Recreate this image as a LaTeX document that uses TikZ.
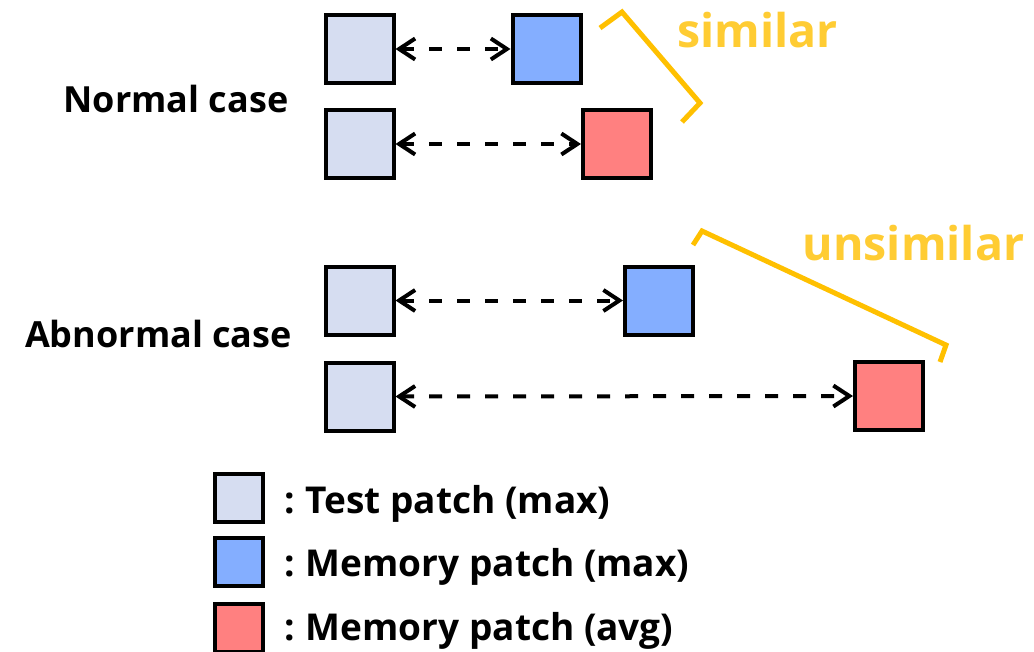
\documentclass[tikz,border=0pt]{standalone}
\usepackage{fontspec}
\setmainfont{Open Sans}
\usetikzlibrary{arrows.meta}
\definecolor{testfill}{HTML}{D6DDF1}
\definecolor{maxfill}{HTML}{84AEFF}
\definecolor{avgfill}{HTML}{FF8080}
\definecolor{bracecol}{HTML}{FFC000}
\definecolor{simtext}{HTML}{FFCC33}
\begin{document}
\begin{tikzpicture}[x=1pt,y=-1pt,
  patch/.style={draw=black, line width=4pt, minimum size=68pt, inner sep=0pt},
  keypatch/.style={patch, minimum size=48pt},
  barb/.tip={Straight Barb[length=16pt,width=21pt,line width=4pt]},
  match/.style={line width=4pt, dash pattern=on 13pt off 15pt, {barb}-{barb}},
  brace/.style={draw=bracecol, line width=5pt},
  caselabel/.style={font=\bfseries\fontsize{36}{40}\selectfont, anchor=base, inner sep=0pt},
  simlabel/.style={font=\bfseries\fontsize{46.5}{50}\selectfont, text=simtext, anchor=base, inner sep=0pt},
  keylabel/.style={font=\bfseries\fontsize{37}{40}\selectfont, anchor=base west, inner sep=0pt},
]
\useasboundingbox (0,0) rectangle (1034,651);

% normal case
\node[patch, fill=testfill] (n1t) at (359.5,49) {};
\node[patch, fill=maxfill]  (n1m) at (546.5,49) {};
\node[patch, fill=testfill] (n2t) at (359.5,144) {};
\node[patch, fill=avgfill]  (n2m) at (617,144) {};
\draw[match] (n1t.east) -- (n1m.west);
\draw[match] (n2t.east) -- (n2m.west);
\node[caselabel] (normal) at (176,112) {Normal case};

% abnormal case
\node[patch, fill=testfill] (a1t) at (359.5,300.5) {};
\node[patch, fill=maxfill]  (a1m) at (659,300.5) {};
\node[patch, fill=testfill] (a2t) at (359.5,396.5) {};
\node[patch, fill=avgfill]  (a2m) at (889,396) {};
\draw[match] (a1t.east) -- (a1m.west);
\draw[match] (a2t.east) -- (a2m.west);
\node[caselabel] (abnormal) at (158.5,347) {Abnormal case};

% similarity brackets
\draw[brace] (600,28) -- (622,12) -- (700,103) -- (682,122);
\node[simlabel] (sim) at (757.5,47) {similar};
\draw[brace] (693,245) -- (702,231) -- (946,345) -- (940,362);
\node[simlabel] (unsim) at (913.5,260) {unsimilar};

% legend
\node[keypatch, fill=testfill] (k1) at (238.5,497.5) {};
\node[keypatch, fill=maxfill]  (k2) at (238.5,562) {};
\node[keypatch, fill=avgfill]  (k3) at (238.5,628) {};
\node[keylabel] (k1t) at (284,513) {:\hspace{0.3em}Test patch (max)};
\node[keylabel] (k2t) at (284,576) {:\hspace{0.3em}Memory patch (max)};
\node[keylabel] (k3t) at (284,640) {:\hspace{0.3em}Memory patch (avg)};
\end{tikzpicture}
\end{document}
